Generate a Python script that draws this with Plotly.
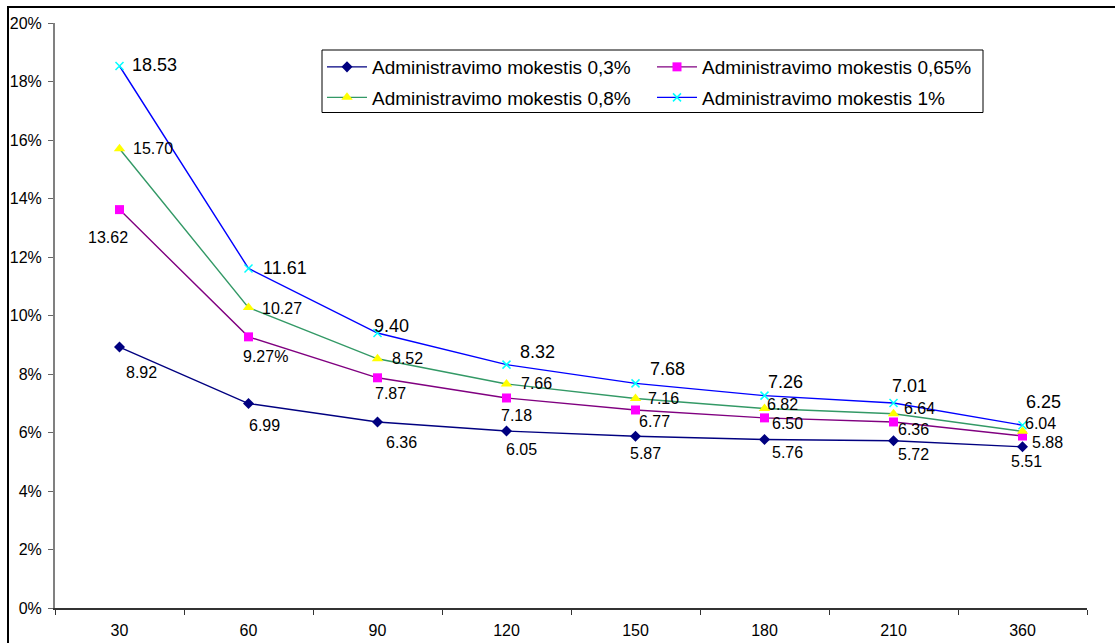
import plotly.graph_objects as go

# Term (days) on the category axis
terms = ["30", "60", "90", "120", "150", "180", "210", "360"]

# Effective cost (%) for each administration fee level
fee_03 = [8.92, 6.99, 6.36, 6.05, 5.87, 5.76, 5.72, 5.51]
fee_065 = [13.62, 9.27, 7.87, 7.18, 6.77, 6.50, 6.36, 5.88]
fee_08 = [15.70, 10.27, 8.52, 7.66, 7.16, 6.82, 6.64, 6.04]
fee_1 = [18.53, 11.61, 9.40, 8.32, 7.68, 7.26, 7.01, 6.25]

names = [
    "Administravimo mokestis 0,3%",
    "Administravimo mokestis 0,65%",
    "Administravimo mokestis 0,8%",
    "Administravimo mokestis 1%",
]

# label suffixes (one label carries a percent sign)
suffix_065 = ["", "%", "", "", "", "", "", ""]

FONT = "Liberation Sans, Arial, sans-serif"

# per-series styling
styles = [
    dict(line="#000080", marker="#000080", symbol="diamond", size=8.5),
    dict(line="#800080", marker="#FF00FF", symbol="square", size=9),
    dict(line="#339966", marker="#FFFF00", symbol="triangle-up", size=10),
    dict(line="#0000FF", marker="#00FFFF", symbol="x-thin", size=8),
]

# data-label pixel offsets (dx right, dy down) from each marker
offsets = [
    [(22, 25), (16, 22), (24, 21), (15, 18), (10, 17), (23, 13), (20, 14), (4, 15)],
    [(-12, 28), (17, 20), (13, 16), (10, 18), (19, 12), (23, 6), (20, 8), (25, 6)],
    [(33, 0), (33, 1), (30, 0), (30, 0), (28, 0), (18, -4), (26, -5), (18, -8)],
    [(35, -1), (36, 0), (14, -7), (31, -13), (32, -14), (21, -14), (16, -17), (21, -23)],
]
label_sizes = [16, 16, 16, 18]

series = [fee_03, fee_065, fee_08, fee_1]
suffixes = [[""] * len(terms), suffix_065, [""] * len(terms), [""] * len(terms)]

legend_ids = ["legend", "legend2", "legend3", "legend4"]

fig = go.Figure()

for vals, name, st, lid in zip(series, names, styles, legend_ids):
    mk = dict(symbol=st["symbol"], size=st["size"], color=st["marker"])
    if st["symbol"] == "x-thin":
        mk["line"] = dict(color=st["marker"], width=1.5)
    else:
        mk["line"] = dict(width=0)
    fig.add_trace(go.Scatter(
        x=terms, y=vals, name=name, mode="lines+markers",
        line=dict(color=st["line"], width=1.4),
        marker=mk, legend=lid, cliponaxis=False,
    ))

# value labels, positioned by category index so numeric-looking names are not misread
annotations = []
for vals, offs, sfx, fs in zip(series, offsets, suffixes, label_sizes):
    for i, (v, (dx, dy), s) in enumerate(zip(vals, offs, sfx)):
        annotations.append(dict(
            x=i, y=v, xref="x", yref="y", text=f"{v:.2f}{s}",
            showarrow=False, xanchor="center", yanchor="middle",
            xshift=dx, yshift=-dy,
            font=dict(family=FONT, size=fs, color="black"),
        ))

# plot-area pixel geometry
L, R, T, B = 55, 28, 23, 35
W, H = 1115, 643
pw, ph = W - L - R, H - T - B


def px(x):
    return (x - L) / pw


def py(y):
    return (H - B - y) / ph


legend_pos = [(px(322), py(67)), (px(652), py(67)), (px(322), py(97.5)), (px(652), py(97.5))]
legend_cfg = {}
for lid, (lx, ly) in zip(legend_ids, legend_pos):
    legend_cfg[lid] = dict(
        x=lx, y=ly, xanchor="left", yanchor="middle", orientation="v",
        bgcolor="rgba(0,0,0,0)", borderwidth=0, itemwidth=40,
        font=dict(family=FONT, size=19, color="black"),
    )

shapes = [
    # outer chart frame
    dict(type="rect", xref="paper", yref="paper",
         x0=px(8), x1=1.2, y0=-0.3, y1=py(7),
         line=dict(color="black", width=2), layer="below"),
    # legend frame
    dict(type="rect", xref="paper", yref="paper",
         x0=px(322), x1=px(983), y0=py(112.5), y1=py(50),
         line=dict(color="black", width=1), fillcolor="white", layer="above"),
]

fig.update_layout(
    width=W, height=H,
    margin=dict(l=L, r=R, t=T, b=B),
    paper_bgcolor="white", plot_bgcolor="white",
    font=dict(family=FONT, size=16, color="black"),
    showlegend=True,
    annotations=annotations,
    shapes=shapes,
    **legend_cfg,
)

fig.update_xaxes(
    type="category", categoryorder="array", categoryarray=terms,
    range=[-0.5, len(terms) - 0.5], automargin=False,
    tickson="boundaries", ticks="outside", ticklen=5, tickcolor="#333333",
    showline=True, linecolor="#333333", linewidth=1.5,
    showgrid=False, zeroline=False, ticklabelstandoff=7,
    tickfont=dict(family=FONT, size=16, color="black"),
)
fig.update_yaxes(
    range=[0, 20], dtick=2, ticksuffix="%", automargin=False,
    ticks="outside", ticklen=5, tickcolor="#666666",
    showline=True, linecolor="#808080", linewidth=2,
    showgrid=False, zeroline=False, ticklabelstandoff=3,
    tickfont=dict(family=FONT, size=16, color="black"),
)

fig.write_html("out.html")
